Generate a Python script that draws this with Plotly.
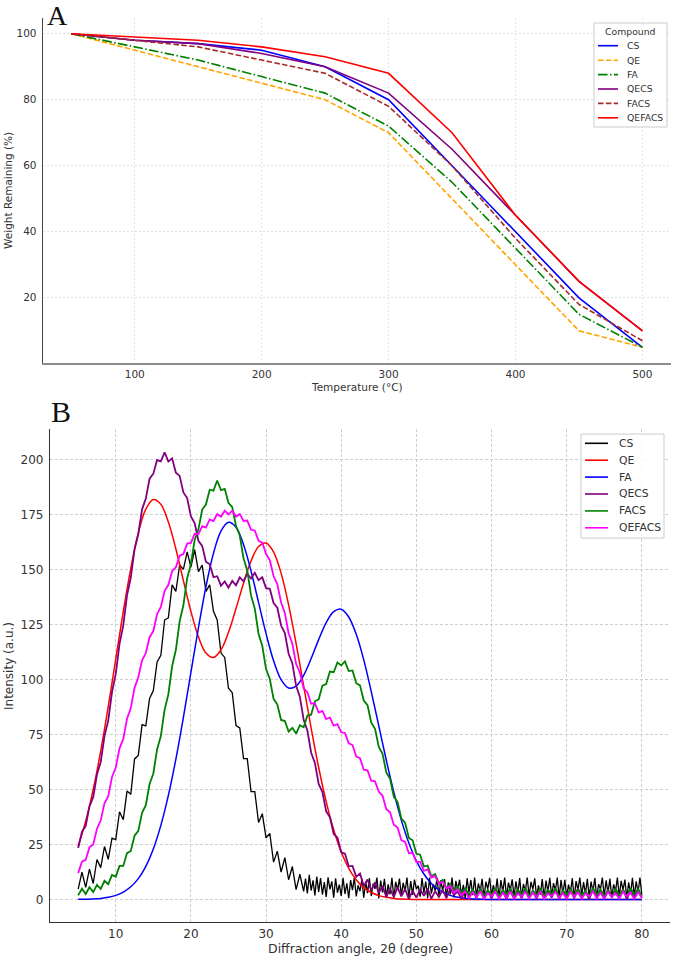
import plotly.graph_objects as go

# ---------------- Panel A : TGA ----------------
temps = [50, 100, 150, 200, 250, 300, 350, 400, 450, 500]
tga_cs = [100, 98, 97, 95, 90, 80, 60, 40, 20, 5]
tga_qe = [100, 95, 90, 85, 80, 70, 50, 30, 10, 5]
tga_fa = [100, 96, 92, 87, 82, 72, 55, 35, 15, 5]
tga_qecs = [100, 98, 97, 94, 90, 82, 65, 45, 25, 10]
tga_facs = [100, 98, 96, 92, 88, 78, 60, 38, 18, 7]
tga_qefacs = [100, 99, 98, 96, 93, 88, 70, 45, 25, 10]

# ---------------- Panel B : XRD ----------------
# smooth patterns, one value per degree from 5 to 80
xrd_qe = [24.3, 35.6, 50.0, 67.5, 87.7, 109.3, 130.8, 150.5, 166.6, 177.4,
          181.8, 179.6, 171.5, 159.3, 144.9, 130.9, 119.4, 112.0, 110.0, 113.5,
          121.4, 132.2, 143.7, 153.8, 160.4, 162.0, 157.9, 148.3, 133.9, 116.3,
          97.1, 77.9, 60.0, 44.5, 31.7, 21.6, 14.2, 9.0, 5.4, 3.2,
          1.8, 1.0, 0.5, 0.2, 0.1, 0.05, 0.0, 0.0, 0.0, 0.0,
          0.0, 0.0, 0.0, 0.0, 0.0, 0.0, 0.0, 0.0, 0.0, 0.0,
          0.0, 0.0, 0.0, 0.0, 0.0, 0.0, 0.0, 0.0, 0.0, 0.0,
          0.0, 0.0, 0.0, 0.0, 0.0, 0.0]
xrd_fa = [0.1, 0.1, 0.3, 0.5, 1.0, 1.9, 3.4, 5.8, 9.5, 15.1,
          23.0, 33.7, 47.3, 63.8, 82.8, 103.2, 123.4, 142.2, 157.3, 167.4,
          171.4, 169.2, 161.3, 149.3, 135.0, 120.8, 108.5, 99.9, 96.1, 97.0,
          101.9, 109.5, 118.1, 125.8, 130.8, 131.9, 128.4, 120.5, 108.9, 94.5,
          78.9, 63.3, 48.8, 36.1, 25.7, 17.6, 11.6, 7.3, 4.4, 2.6,
          1.4, 0.8, 0.4, 0.2, 0.1, 0.0, 0.0, 0.0, 0.0, 0.0,
          0.0, 0.0, 0.0, 0.0, 0.0, 0.0, 0.0, 0.0, 0.0, 0.0,
          0.0, 0.0, 0.0, 0.0, 0.0, 0.0]

# CS: half-degree readings 5-35, then quarter-degree readings 35.25-80 (noisy baseline)
xrd_cs_peak = [4.7, 12.5, 5.5, 13.8, 7.3, 18.2, 14.5, 24.1, 18.3, 27.9,
               27.2, 39.9, 36.3, 49.3, 47.8, 63.9, 65.5, 79.5, 78.9, 91.4,
               95.0, 108.0, 111.0, 127.0, 128.0, 143.0, 140.0, 152.0, 150.0, 158.0,
               151.0, 159.0, 149.0, 152.0, 140.0, 143.0, 131.0, 127.0, 112.0, 110.0,
               96.0, 94.0, 79.0, 78.0, 64.0, 64.0, 49.0, 49.0, 35.0, 39.0,
               28.0, 30.0, 17.0, 22.0, 12.5, 19.0, 9.0, 15.0, 4.5, 11.5,
               3.7]
xrd_cs_tail = [9.5, 2.8, 11.2, 4.1, 8.7, 1.9, 10.4, 3.5, 9.8, 2.2,
               7.9, 1.2, 10.1, 4.6, 8.3, 0.9, 9.6, 3.1, 6.8, 1.7,
               9.9, 2.5, 7.4, 0.6, 8.8, 4.3, 10.0, 1.4, 6.5, 3.8,
               9.2, 0.8, 8.1, 2.9, 9.7, 1.6, 7.2, 4.9, 10.0, 0.5,
               8.6, 3.2, 9.4, 1.1, 6.9, 2.4, 9.9, 0.7, 8.0, 4.4,
               9.5, 1.9, 7.6, 3.6, 10.0, 0.9, 8.4, 2.1, 9.1, 4.7,
               6.3, 1.3, 9.8, 3.0, 8.2, 0.6, 10.0, 2.7, 7.0, 4.1,
               9.6, 1.5, 8.7, 3.9, 9.3, 0.8, 7.8, 2.3, 10.0, 1.0,
               8.5, 4.5, 9.0, 1.8, 6.7, 0.5, 9.7, 3.3, 8.9, 2.0,
               10.0, 1.2, 7.3, 3.7, 9.4, 0.9, 8.1, 4.8, 9.9, 1.6,
               6.6, 2.6, 9.5, 0.7, 8.8, 3.4, 10.0, 1.1, 7.7, 4.2,
               9.2, 1.4, 8.3, 2.8, 9.8, 0.6, 7.1, 3.9, 10.0, 1.7,
               8.0, 4.6, 9.6, 1.0, 6.4, 2.2, 9.3, 0.8, 8.6, 3.5,
               9.9, 1.5, 7.5, 4.0, 10.0, 0.9, 8.9, 2.5, 9.0, 1.3,
               6.8, 3.1, 9.7, 0.5, 8.4, 4.4, 10.0, 1.9, 7.9, 2.7,
               9.4, 1.1, 8.2, 3.6, 9.8, 0.7, 7.0, 4.7, 10.0, 1.4,
               8.7, 2.9, 9.5, 0.9, 6.9, 3.8, 10.0, 1.2, 8.5, 4.3,
               9.1, 0.6, 7.8, 2.4, 9.9, 1.6, 8.3, 3.2, 10.0, 2.1]

# noisy patterns, one value per half degree from 5 to 80
xrd_qecs = [23.4, 30.8, 33.5, 42.3, 46.5, 56.8, 62.5, 74.3, 81.3, 94.3,
            102.5, 116.2, 124.6, 138.2, 146.3, 159.2, 166.0, 177.3, 182.2, 191.2,
            193.5, 199.7, 199.1, 203.2, 199.0, 200.5, 193.9, 192.5, 185.0, 182.4,
            174.1, 171.1, 163.0, 160.7, 153.5, 152.3, 146.5, 146.9, 142.6, 144.5,
            141.7, 144.8, 142.8, 146.4, 144.6, 148.1, 145.9, 148.5, 145.1, 146.4,
            141.5, 141.2, 134.7, 132.6, 124.5, 121.1, 111.7, 107.3, 97.1, 92.1,
            81.7, 76.8, 66.7, 62.1, 52.5, 48.8, 40.1, 37.4, 29.8, 28.1,
            21.5, 20.8, 15.1, 15.3, 10.4, 11.8, 6.1, 9.1, 4.1, 7.8,
            3.1, 6.1, 1.2, 4.9, 1.2, 5.5, 1.4, 4.8, 0.2, 4.0,
            0.9, 4.6, 1.7, 5.0, 0.4, 3.8, 1.2, 4.4, 0.6, 4.9,
            2.1, 3.6, 0.3, 4.7, 1.5, 4.1, 0.8, 5.0, 1.9, 3.9,
            0.5, 4.5, 1.1, 3.7, 0.2, 4.8, 1.6, 4.2, 0.7, 5.0,
            1.3, 3.5, 0.4, 4.6, 2.0, 4.0, 0.9, 4.9, 0.3, 3.8,
            1.4, 4.3, 0.6, 5.0, 1.8, 3.6, 0.2, 4.7, 1.0, 4.1,
            0.5, 4.4, 1.7, 3.9, 0.8, 4.8, 0.3, 4.2, 1.2, 4.6,
            0.7]
xrd_facs = [1.9, 4.9, 2.5, 5.6, 3.4, 6.7, 4.8, 8.5, 7.0, 11.2,
            10.4, 15.3, 15.3, 21.1, 22.1, 29.0, 31.2, 39.4, 42.9, 52.5,
            57.3, 68.2, 74.3, 86.3, 93.3, 106.0, 113.5, 126.4, 133.7, 146.0,
            152.4, 163.4, 168.2, 177.2, 179.5, 186.2, 185.8, 190.4, 186.0, 186.6,
            180.3, 178.3, 169.7, 165.4, 155.1, 149.5, 138.2, 132.2, 120.8, 115.2,
            104.7, 100.2, 91.2, 88.6, 81.6, 81.1, 76.3, 78.0, 75.4, 79.2,
            78.3, 83.6, 84.0, 90.1, 91.0, 97.2, 97.9, 103.6, 103.3, 107.7,
            106.4, 108.2, 103.8, 104.1, 98.3, 97.3, 90.4, 88.3, 80.4, 77.6,
            69.3, 66.2, 57.8, 54.9, 46.8, 44.3, 36.8, 34.9, 28.0, 26.9,
            20.8, 20.4, 15.0, 15.4, 10.6, 11.6, 7.4, 8.9, 5.2, 7.1,
            3.7, 5.9, 2.8, 5.2, 2.1, 4.6, 1.6, 4.9, 1.2, 4.4,
            2.0, 5.2, 1.5, 4.3, 2.3, 5.0, 1.1, 4.6, 2.2, 5.3,
            1.4, 4.1, 1.9, 5.1, 1.3, 4.5, 2.4, 5.2, 1.0, 4.2,
            2.1, 4.9, 1.5, 4.7, 1.8, 4.0, 1.2, 5.3, 2.2, 4.6,
            1.6, 4.1, 1.0, 5.0, 1.9, 4.4, 1.4, 5.2, 2.3, 4.8,
            1.5]
xrd_qefacs = [12.0, 17.2, 18.0, 23.7, 25.0, 32.2, 36.0, 43.7, 47.0, 55.7,
              60.0, 68.7, 73.0, 82.2, 87.0, 96.2, 101.0, 108.7, 112.0, 119.2,
              122.0, 129.7, 133.0, 140.2, 143.0, 149.2, 151.0, 156.2, 157.0, 161.7,
              162.0, 166.2, 166.0, 169.7, 169.0, 172.7, 172.0, 175.2, 174.0, 176.7,
              175.0, 176.7, 174.0, 175.2, 172.0, 172.2, 168.0, 167.7, 163.0, 162.2,
              157.0, 154.2, 147.0, 143.2, 135.0, 130.2, 121.0, 116.2, 107.0, 103.2,
              96.0, 94.2, 89.0, 89.2, 85.0, 85.7, 82.0, 82.7, 79.0, 79.7,
              76.0, 75.7, 71.0, 70.2, 65.0, 64.2, 59.0, 58.7, 54.0, 53.7,
              49.0, 47.2, 41.0, 39.7, 34.0, 32.7, 27.0, 26.2, 21.0, 21.2,
              17.0, 17.2, 13.0, 13.7, 10.0, 10.7, 7.0, 8.2, 5.0, 6.2,
              3.0, 4.7, 2.0, 3.7, 0.6, 3.4, 1.1, 3.8, 0.3, 2.9,
              1.5, 3.6, 0.4, 3.1, 0.9, 3.7, 0.2, 2.8, 1.3, 3.5,
              0.5, 3.2, 1.0, 3.8, 0.3, 2.7, 1.6, 3.4, 0.7, 3.0,
              0.2, 3.6, 1.2, 3.3, 0.4, 2.9, 1.4, 3.7, 0.6, 3.1,
              0.3, 3.5, 1.1, 2.8, 0.5, 3.6, 1.5, 3.2, 0.2, 3.4,
              0.9]

angles_coarse = [5 + i for i in range(len(xrd_qe))]


def half_degree(vals, start=5.0):
    return [start + 0.5 * i for i in range(len(vals))]


angles_cs = half_degree(xrd_cs_peak) + [35.25 + 0.25 * i for i in range(len(xrd_cs_tail))]
xrd_cs = xrd_cs_peak + xrd_cs_tail

W, H = 673, 957
fig = go.Figure()

# ---- Panel A traces ----
tga_series = [
    ("CS", tga_cs, "#0000FF", "solid"),
    ("QE", tga_qe, "#FFA500", "5.5px,2.4px"),
    ("FA", tga_fa, "#008000", "9.6px,2.4px,1.5px,2.4px"),
    ("QECS", tga_qecs, "#800080", "solid"),
    ("FACS", tga_facs, "#A52A2A", "5.5px,2.4px"),
    ("QEFACS", tga_qefacs, "#FF0000", "solid"),
]
for name, vals, color, dash in tga_series:
    fig.add_trace(go.Scatter(x=temps, y=vals, mode="lines", name=name,
                             line=dict(color=color, width=1.6, dash=dash),
                             xaxis="x", yaxis="y", showlegend=False))

# ---- Panel B traces ----
xrd_series = [
    ("CS", angles_cs, xrd_cs, "#000000", "linear", 1.3),
    ("QE", angles_coarse, xrd_qe, "#FF0000", "spline", 1.5),
    ("FA", angles_coarse, xrd_fa, "#0000FF", "spline", 1.5),
    ("QECS", half_degree(xrd_qecs), xrd_qecs, "#800080", "linear", 1.8),
    ("FACS", half_degree(xrd_facs), xrd_facs, "#008000", "linear", 1.8),
    ("QEFACS", half_degree(xrd_qefacs), xrd_qefacs, "#FF00FF", "linear", 1.8),
]
for name, xs, ys, color, shape, lw in xrd_series:
    fig.add_trace(go.Scatter(x=xs, y=ys, mode="lines", name=name,
                             line=dict(color=color, width=lw, shape=shape),
                             xaxis="x2", yaxis="y2", showlegend=False))


def px(x):
    return x / W


def py(y):
    return 1 - y / H


shapes = []
annotations = []


# ---- legend boxes (matplotlib-style compact legends) ----
def add_legend(box, title, entries, y_rows, line_x, text_x, font_size, title_y=None):
    x0, y0, x1, y1 = box
    shapes.append(dict(type="rect", xref="paper", yref="paper",
                       x0=px(x0), x1=px(x1), y0=py(y1), y1=py(y0),
                       line=dict(color="#cccccc", width=1),
                       fillcolor="rgba(255,255,255,0.85)", layer="above"))
    if title:
        annotations.append(dict(text=title, x=px((x0 + x1) / 2), y=py(title_y),
                                xref="paper", yref="paper", xanchor="center",
                                yanchor="middle", showarrow=False,
                                font=dict(size=font_size, color="#333333")))
    for (name, color, dash), yy in zip(entries, y_rows):
        shapes.append(dict(type="line", xref="paper", yref="paper",
                           x0=px(line_x[0]), x1=px(line_x[1]), y0=py(yy), y1=py(yy),
                           line=dict(color=color, width=1.6, dash=dash), layer="above"))
        annotations.append(dict(text=name, x=px(text_x), y=py(yy), xref="paper",
                                yref="paper", xanchor="left", yanchor="middle",
                                showarrow=False,
                                font=dict(size=font_size, color="#333333")))


add_legend((594, 23, 667, 127), "Compound",
           [(n, c, d) for n, _, c, d in tga_series],
           [45.7, 60.2, 74.6, 89.0, 103.4, 117.8], (598, 618), 624.5, 9.3, title_y=31)
add_legend((581, 434, 664, 538), None,
           [(n, c, "solid") for n, _, _, c, _, _ in xrd_series],
           [443.3, 460.2, 477.1, 494.0, 510.9, 527.8], (585, 608), 616.5, 10.8)

tick_font_a = dict(family="DejaVu Sans", size=10.5, color="#333333")
tick_font_b = dict(family="DejaVu Sans", size=12, color="#333333")

annotations += [
    dict(text="A", x=px(46), y=py(15.5), xref="paper", yref="paper",
         xanchor="left", yanchor="middle", showarrow=False, borderpad=0,
         font=dict(family="Liberation Serif", size=28, color="#111111")),
    dict(text="B", x=px(49), y=py(411), xref="paper", yref="paper",
         xanchor="left", yanchor="middle", showarrow=False,
         font=dict(family="Liberation Serif", size=30, color="#111111")),
    dict(text="Temperature (°C)", x=px(357), y=py(387), xref="paper",
         yref="paper", xanchor="center", yanchor="middle", showarrow=False,
         font=dict(size=10.5, color="#333333")),
    dict(text="Weight Remaining (%)", x=px(8), y=py(191), xref="paper",
         yref="paper", xanchor="center", yanchor="middle", showarrow=False,
         textangle=-90, font=dict(size=10.5, color="#333333")),
    dict(text="Intensity (a.u.)", x=px(9), y=py(666), xref="paper",
         yref="paper", xanchor="center", yanchor="middle", showarrow=False,
         textangle=-90, font=dict(size=12, color="#333333")),
    dict(text="Diffraction angle, 2θ (degree)", x=px(360), y=py(948),
         xref="paper", yref="paper", xanchor="center", yanchor="middle",
         showarrow=False, font=dict(size=12.5, color="#333333")),
]

fig.update_layout(
    width=W, height=H,
    margin=dict(l=0, r=0, t=0, b=0),
    paper_bgcolor="white", plot_bgcolor="white",
    font=dict(family="DejaVu Sans", color="#333333"),
    showlegend=False,
    xaxis=dict(domain=[px(42.7), px(671)], anchor="y", range=[27.5, 522.5],
               tickvals=[100, 200, 300, 400, 500], showgrid=True,
               gridcolor="#e3e3e3", gridwidth=0.8, griddash="2px,2px",
               showline=True, linecolor="#8c8c8c", linewidth=2, ticks="",
               ticklabelstandoff=0, tickfont=tick_font_a, zeroline=False),
    yaxis=dict(domain=[py(363), py(18)], anchor="x", range=[0.25, 104.75],
               tickvals=[20, 40, 60, 80, 100], showgrid=True,
               gridcolor="#e3e3e3", gridwidth=0.8, griddash="2px,2px",
               showline=True, linecolor="#444444", linewidth=1.2, ticks="",
               ticklabelstandoff=3, tickfont=tick_font_a, zeroline=False),
    xaxis2=dict(domain=[px(50), px(670)], anchor="y2", range=[1.25, 83.75],
                tickvals=[10, 20, 30, 40, 50, 60, 70, 80], showgrid=True,
                gridcolor="#cfcfcf", gridwidth=0.8, griddash="3px,2px",
                showline=True, linecolor="#333333", linewidth=1.3, ticks="",
                ticklabelstandoff=0, tickfont=tick_font_b, zeroline=False),
    yaxis2=dict(domain=[py(922), py(429)], anchor="x2", range=[-10.2, 213.8],
                tickvals=[0, 25, 50, 75, 100, 125, 150, 175, 200], showgrid=True,
                gridcolor="#cfcfcf", gridwidth=0.8, griddash="3px,2px",
                showline=True, linecolor="#333333", linewidth=1.3, ticks="",
                ticklabelstandoff=3, tickfont=tick_font_b, zeroline=False),
    shapes=shapes,
    annotations=annotations,
)

fig.write_html("out.html")
